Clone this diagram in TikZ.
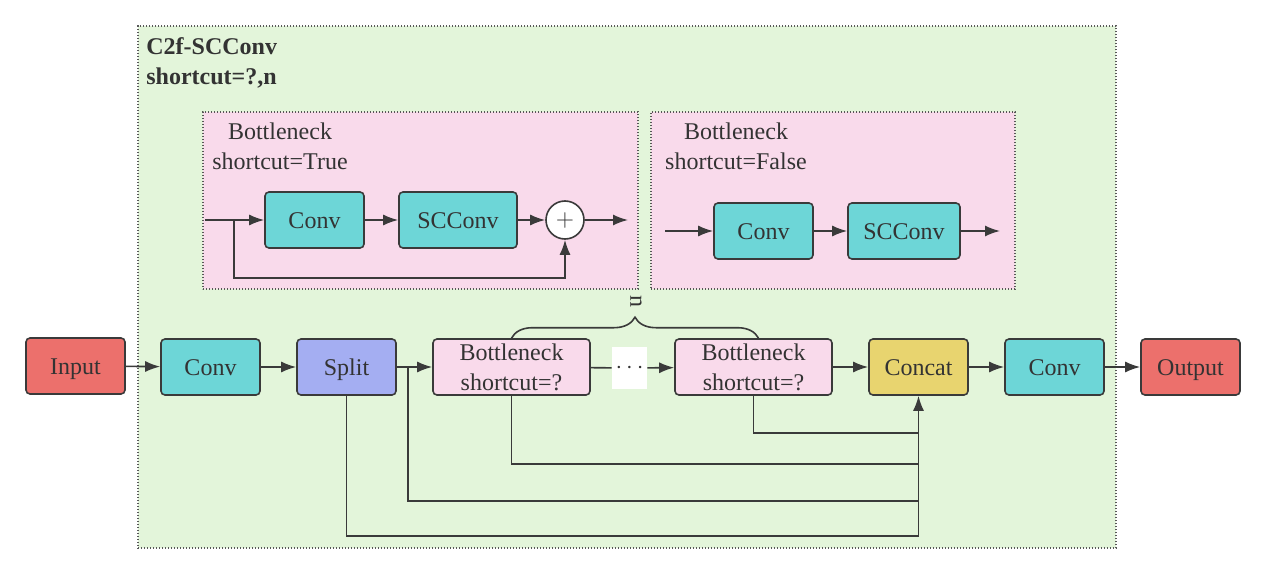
\documentclass[tikz,border=0pt]{standalone}
\usepackage{fontspec}
\setmainfont{Liberation Serif}
\usepackage{xcolor}
\usepackage{tikz}
\usetikzlibrary{arrows.meta,decorations.pathreplacing}

\definecolor{framegreen}{RGB}{227,245,218}
\definecolor{framepink}{RGB}{249,218,235}
\definecolor{convteal}{RGB}{109,214,215}
\definecolor{ioored}{RGB}{236,112,108}
\definecolor{splitblue}{RGB}{164,174,242}
\definecolor{concatyellow}{RGB}{232,212,111}
\definecolor{linegray}{RGB}{58,58,58}
\definecolor{textgray}{RGB}{51,51,51}

\begin{document}
\begin{tikzpicture}[x=0.5pt,y=-0.5pt,
  font=\fontsize{12}{15}\selectfont, text=textgray,
  block/.style={draw=linegray, line width=0.8pt, rounded corners=2pt,
    minimum width=49.5pt, minimum height=28pt, inner sep=0pt, align=center},
  oneline/.style={text height=10pt, text depth=2pt},
  frame/.style={draw=linegray!85, line width=0.6pt, dash pattern=on 0.6pt off 0.9pt, inner sep=0pt},
  arr/.style={draw=linegray, line width=0.8pt, -{Latex[length=7.5pt,width=5.5pt]}},
  wire/.style={draw=linegray, line width=0.8pt}]

\useasboundingbox (0,0) rectangle (1266,573);

\node[frame, fill=framegreen, minimum width=489pt, minimum height=261pt] (c2f) at (627,287) {};
\node[anchor=north west, inner sep=0pt, align=left, font=\bfseries\fontsize{12}{15}\selectfont] (title) at (146,37) {C2f-SCConv\\shortcut=?,n};

% bottleneck with shortcut
\node[frame, fill=framepink, minimum width=217.5pt, minimum height=88.5pt] (bnT) at (420.5,200.5) {};
\node[align=center, inner sep=0pt] (bnTlab) at (280,146) {Bottleneck\\shortcut=True};
\node[block, oneline, fill=convteal] (convT) at (314.5,220) {Conv};
\node[block, oneline, fill=convteal, minimum width=59pt] (sccT) at (458,220) {SCConv};
\node[draw=linegray, line width=0.8pt, circle, fill=white, minimum size=19pt, inner sep=0pt] (plus) at (565,220) {$+$};
\coordinate (inT) at (205,220);
\coordinate (brT) at (234,220);
\coordinate (outT) at (628,220);
\draw[arr] (inT) -- (convT);
\draw[arr] (convT) -- (sccT);
\draw[arr] (sccT) -- (plus);
\draw[arr] (plus) -- (outT);
\draw[arr] (brT) -- ++(0,58) -| (plus);

% bottleneck without shortcut
\node[frame, fill=framepink, minimum width=182pt, minimum height=88.5pt] (bnF) at (833,200.5) {};
\node[align=center, inner sep=0pt] (bnFlab) at (736,146) {Bottleneck\\shortcut=False};
\node[block, oneline, fill=convteal] (convF) at (763.5,231) {Conv};
\node[block, oneline, fill=convteal, minimum width=56pt] (sccF) at (904,231) {SCConv};
\coordinate (inF) at (665,231);
\coordinate (outF) at (1000,231);
\draw[arr] (inF) -- (convF);
\draw[arr] (convF) -- (sccF);
\draw[arr] (sccF) -- (outF);

% main row
\node[block, oneline, fill=ioored] (input) at (75.5,366) {Input};
\node[block, oneline, fill=convteal] (conv1) at (210.5,367) {Conv};
\node[block, oneline, fill=splitblue] (split) at (346.5,367) {Split};
\node[block, fill=framepink, minimum width=78.5pt] (bn1) at (511.5,367) {Bottleneck\\shortcut=?};
\node[fill=white, minimum width=17.5pt, minimum height=21pt, inner sep=0pt] (dots) at (629.5,368) {$\cdots$};
\node[block, fill=framepink, minimum width=78.5pt] (bn2) at (753.5,367) {Bottleneck\\shortcut=?};
\node[block, oneline, fill=concatyellow] (concat) at (918.5,367) {Concat};
\node[block, oneline, fill=convteal] (conv2) at (1054.5,367) {Conv};
\node[block, oneline, fill=ioored] (output) at (1190.5,367) {Output};

\draw[arr] (input) -- (conv1);
\draw[arr] (conv1) -- (split);
\draw[arr] (split) -- (bn1);
\draw[wire] (bn1) -- (dots);
\draw[arr] (dots) -- (bn2);
\draw[arr] (bn2) -- (concat);
\draw[arr] (concat) -- (conv2);
\draw[arr] (conv2) -- (output);

\draw[wire, decorate, decoration={brace, amplitude=10.5pt}] (bn1.north) -- ([xshift=2.5pt]bn2.north);
\node[rotate=-90, inner sep=0pt] (nlab) at (636,301) {n};

\coordinate (brS) at (408,367);
\coordinate (j1) at (918.5,433);
\coordinate (j2) at (918.5,464);
\coordinate (j3) at (918.5,501);
\coordinate (j4) at (918.5,536);
\draw[wire] (bn2.south) |- (j1);
\draw[wire] (bn1.south) |- (j2);
\draw[wire] (brS) |- (j3);
\draw[arr] (split.south) |- (j4) -- (concat.south);

\end{tikzpicture}
\end{document}
